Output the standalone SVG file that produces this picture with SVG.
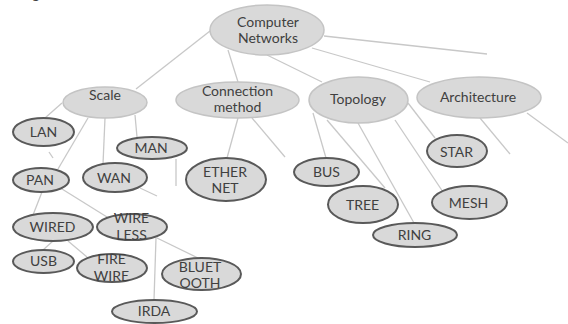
<svg xmlns="http://www.w3.org/2000/svg" width="568" height="324" viewBox="0 0 568 324">
<style>
  .bg { fill: #ffffff; }
  .cat { fill: #d9d9d9; stroke: #c4c4c4; stroke-width: 1.5; }
  .leaf { fill: #d9d9d9; stroke: #595959; stroke-width: 2; }
  .lbl { font-family: Lato, "Liberation Sans", sans-serif; font-size: 14px; fill: #404040; text-anchor: middle; }
  #connectors line { stroke: #c8c8c8; stroke-width: 1.3; }
</style>
<rect class="bg" x="0" y="0" width="568" height="324"/>
<text class="lbl" x="36" y="-1" font-size="16">g</text>
<g id="connectors">
  <line x1="210" y1="31" x2="136" y2="89"/>
  <line x1="228" y1="50" x2="238" y2="82"/>
  <line x1="267" y1="55" x2="322" y2="82"/>
  <line x1="312" y1="48" x2="430" y2="82"/>
  <line x1="324" y1="36" x2="487" y2="54"/>
  <line x1="62" y1="103" x2="45" y2="118"/>
  <line x1="49" y1="152" x2="53" y2="158"/>
  <line x1="88" y1="118" x2="58" y2="169"/>
  <line x1="105" y1="118" x2="103" y2="164"/>
  <line x1="135" y1="115" x2="137" y2="137"/>
  <line x1="176" y1="159" x2="176" y2="186"/>
  <line x1="140" y1="188" x2="157" y2="196"/>
  <line x1="238" y1="118" x2="227" y2="158"/>
  <line x1="252" y1="118" x2="285" y2="157"/>
  <line x1="313" y1="113" x2="326" y2="158"/>
  <line x1="327" y1="120" x2="385" y2="188"/>
  <line x1="358" y1="123" x2="414" y2="223"/>
  <line x1="395" y1="120" x2="443" y2="192"/>
  <line x1="408" y1="103" x2="435" y2="138"/>
  <line x1="480" y1="118" x2="510" y2="154"/>
  <line x1="527" y1="113" x2="568" y2="143"/>
  <line x1="42" y1="192" x2="33" y2="215"/>
  <line x1="62" y1="189" x2="107" y2="217"/>
  <line x1="53" y1="241" x2="43" y2="250"/>
  <line x1="68" y1="241" x2="87" y2="257"/>
  <line x1="157" y1="238" x2="198" y2="258"/>
  <line x1="156" y1="238" x2="154" y2="300"/>
</g>
<g id="computer-networks">
  <ellipse class="cat" cx="267" cy="30" rx="57" ry="25"/>
  <text class="lbl" x="268" y="27">Computer</text>
  <text class="lbl" x="268" y="43">Networks</text>
</g>
<g id="scale">
  <ellipse class="cat" cx="105" cy="102.5" rx="42" ry="15.5"/>
  <text class="lbl" x="105" y="100">Scale</text>
</g>
<g id="connection-method">
  <ellipse class="cat" cx="237.5" cy="100" rx="61.5" ry="18"/>
  <text class="lbl" x="237.5" y="96">Connection</text>
  <text class="lbl" x="237.5" y="112">method</text>
</g>
<g id="topology">
  <ellipse class="cat" cx="358.5" cy="100" rx="49.5" ry="23"/>
  <text class="lbl" x="358" y="104">Topology</text>
</g>
<g id="architecture">
  <ellipse class="cat" cx="479" cy="97.5" rx="62" ry="20.5"/>
  <text class="lbl" x="478" y="102">Architecture</text>
</g>
<g id="lan">
  <ellipse class="leaf" cx="43.5" cy="132" rx="30.5" ry="14"/>
  <text class="lbl" x="43.5" y="137">LAN</text>
</g>
<g id="man">
  <ellipse class="leaf" cx="152" cy="148" rx="35" ry="11"/>
  <text class="lbl" x="151" y="153">MAN</text>
</g>
<g id="pan">
  <ellipse class="leaf" cx="41" cy="180" rx="28" ry="12"/>
  <text class="lbl" x="40" y="185">PAN</text>
</g>
<g id="wan">
  <ellipse class="leaf" cx="115" cy="177.5" rx="32" ry="14.5"/>
  <text class="lbl" x="114" y="183">WAN</text>
</g>
<g id="ethernet">
  <ellipse class="leaf" cx="226" cy="179.5" rx="40" ry="21.5"/>
  <text class="lbl" x="225" y="177">ETHER</text>
  <text class="lbl" x="225" y="193">NET</text>
</g>
<g id="wired">
  <ellipse class="leaf" cx="53" cy="227" rx="40" ry="14"/>
  <text class="lbl" x="52.5" y="232">WIRED</text>
</g>
<g id="wireless">
  <ellipse class="leaf" cx="132" cy="227" rx="35" ry="13"/>
  <text class="lbl" x="131.5" y="223">WIRE</text>
  <text class="lbl" x="131.5" y="240">LESS</text>
</g>
<g id="usb">
  <ellipse class="leaf" cx="43.5" cy="261.5" rx="30.5" ry="11.5"/>
  <text class="lbl" x="43.5" y="266">USB</text>
</g>
<g id="firewire">
  <ellipse class="leaf" cx="112" cy="268" rx="35" ry="14"/>
  <text class="lbl" x="111.5" y="264">FIRE</text>
  <text class="lbl" x="111.5" y="281">WIRE</text>
</g>
<g id="bluetooth">
  <ellipse class="leaf" cx="201.5" cy="274" rx="39.5" ry="16"/>
  <text class="lbl" x="200" y="272">BLUET</text>
  <text class="lbl" x="200" y="288">OOTH</text>
</g>
<g id="irda">
  <ellipse class="leaf" cx="154.5" cy="311.5" rx="42.5" ry="11.5"/>
  <text class="lbl" x="154" y="316">IRDA</text>
</g>
<g id="bus">
  <ellipse class="leaf" cx="326.5" cy="172" rx="32.5" ry="14"/>
  <text class="lbl" x="326.5" y="177">BUS</text>
</g>
<g id="tree">
  <ellipse class="leaf" cx="363" cy="204.5" rx="35" ry="18.5"/>
  <text class="lbl" x="362.5" y="210">TREE</text>
</g>
<g id="ring">
  <ellipse class="leaf" cx="415" cy="235" rx="42" ry="12"/>
  <text class="lbl" x="414.5" y="240">RING</text>
</g>
<g id="mesh">
  <ellipse class="leaf" cx="469.5" cy="202.5" rx="37.5" ry="16.5"/>
  <text class="lbl" x="468.5" y="208">MESH</text>
</g>
<g id="star">
  <ellipse class="leaf" cx="457" cy="151" rx="30" ry="16"/>
  <text class="lbl" x="456.5" y="157">STAR</text>
</g>
</svg>
